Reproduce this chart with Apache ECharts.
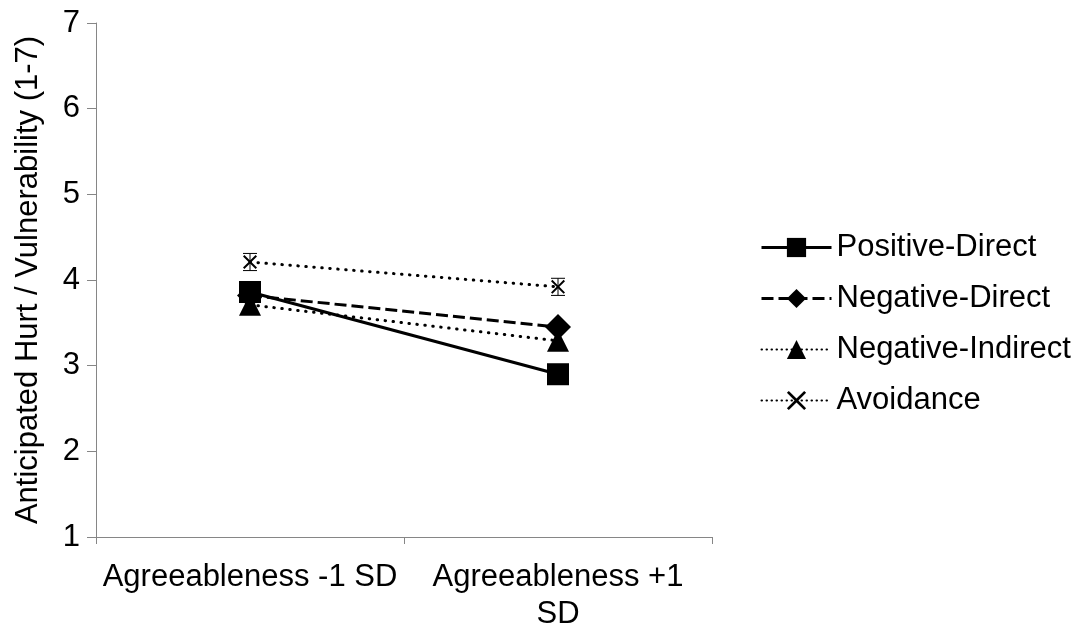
<!DOCTYPE html>
<html>
<head>
<meta charset="utf-8">
<script src="https://cdn.jsdelivr.net/npm/echarts@6/dist/echarts.min.js"></script>
<style>html,body{margin:0;padding:0;background:#fff;}#c{width:1079px;height:633px;}</style>
</head>
<body>
<div id="c"></div>
<script>
var categories = ['Agreeableness -1 SD', 'Agreeableness +1\nSD'];
var positiveDirect = [3.86, 2.90];
var negativeDirect = [3.82, 3.45];
var negativeIndirect = [3.71, 3.29];
var avoidance = [4.21, 3.92];
var avoidanceErr = [0.1, 0.1];
var yTicks = {min: 1, max: 7, interval: 1};

var FONT = '"Liberation Sans", Arial, sans-serif';
var FS = 31;
var xPath = 'path://M0,1L1,0L5,4L9,0L10,1L6,5L10,9L9,10L5,6L1,10L0,9L4,5Z';
var dotted = [0.5, 7.5];

var chart = echarts.init(document.getElementById('c'));
chart.setOption({
  animation: false,
  backgroundColor: '#fff',
  grid: {left: 96, right: 367, top: 23, bottom: 91},
  legend: {
    orient: 'vertical',
    left: 755, top: 227,
    itemWidth: 70, itemHeight: 24, itemGap: 20,
    textStyle: {fontFamily: FONT, fontSize: FS, lineHeight: 30, color: '#000', padding: [0,0,0,0]},
    data: [
      {name: 'Positive-Direct', lineStyle: {width: 3}},
      {name: 'Negative-Direct', lineStyle: {width: 3}},
      {name: 'Negative-Indirect', lineStyle: {width: 2, type: [0.5, 4.5]}},
      {name: 'Avoidance', lineStyle: {width: 2, type: [0.5, 4.5]}}
    ]
  },
  xAxis: {
    type: 'category',
    data: categories,
    boundaryGap: true,
    axisLine: {lineStyle: {color: '#868686', width: 1}},
    axisTick: {show: true, length: 7, lineStyle: {color: '#868686'}},
    axisLabel: {interval: 0, fontFamily: FONT, fontSize: FS, color: '#000', lineHeight: 37, margin: 22}
  },
  yAxis: {
    type: 'value',
    min: yTicks.min, max: yTicks.max, interval: yTicks.interval,
    name: 'Anticipated Hurt / Vulnerability (1-7)',
    nameLocation: 'middle', nameGap: 52, nameRotate: 90,
    nameTextStyle: {fontFamily: FONT, fontSize: FS, color: '#000'},
    axisLine: {show: true, lineStyle: {color: '#868686', width: 1}},
    axisTick: {show: true, length: 9, lineStyle: {color: '#868686'}},
    splitLine: {show: false},
    axisLabel: {fontFamily: FONT, fontSize: FS, color: '#000', margin: 16}
  },
  series: [
    {
      name: 'Positive-Direct', type: 'line', data: positiveDirect,
      symbol: 'rect', symbolSize: 22,
      lineStyle: {color: '#000', width: 3, type: 'solid'},
      itemStyle: {color: '#000'}, z: 5
    },
    {
      name: 'Negative-Direct', type: 'line', data: negativeDirect,
      symbol: 'diamond', symbolSize: 26,
      lineStyle: {color: '#000', width: 3, type: [12, 5]},
      itemStyle: {color: '#000'}, z: 4
    },
    {
      name: 'Negative-Indirect', type: 'line', data: negativeIndirect,
      symbol: 'triangle', symbolSize: 22,
      lineStyle: {color: '#000', width: 3, type: dotted, cap: 'round'},
      itemStyle: {color: '#000'}, z: 3
    },
    {
      name: 'Avoidance', type: 'line', data: avoidance,
      symbol: xPath, symbolSize: 14,
      lineStyle: {color: '#000', width: 3, type: dotted, cap: 'round'},
      itemStyle: {color: '#000'}, z: 3
    },
    {
      name: 'AvoidanceErr', type: 'custom',
      data: avoidance.map(function (v, i) { return [i, v - avoidanceErr[i], v + avoidanceErr[i]]; }),
      encode: {x: 0, y: [1, 2]},
      z: 6,
      renderItem: function (params, api) {
        var lo = api.coord([api.value(0), api.value(1)]);
        var hi = api.coord([api.value(0), api.value(2)]);
        var w = 7;
        var st = {stroke: '#000', lineWidth: 1};
        return {type: 'group', children: [
          {type: 'line', shape: {x1: lo[0], y1: lo[1], x2: hi[0], y2: hi[1]}, style: st},
          {type: 'line', shape: {x1: lo[0]-w, y1: lo[1], x2: lo[0]+w, y2: lo[1]}, style: st},
          {type: 'line', shape: {x1: hi[0]-w, y1: hi[1], x2: hi[0]+w, y2: hi[1]}, style: st}
        ]};
      }
    }
  ]
});
</script>
</body>
</html>
